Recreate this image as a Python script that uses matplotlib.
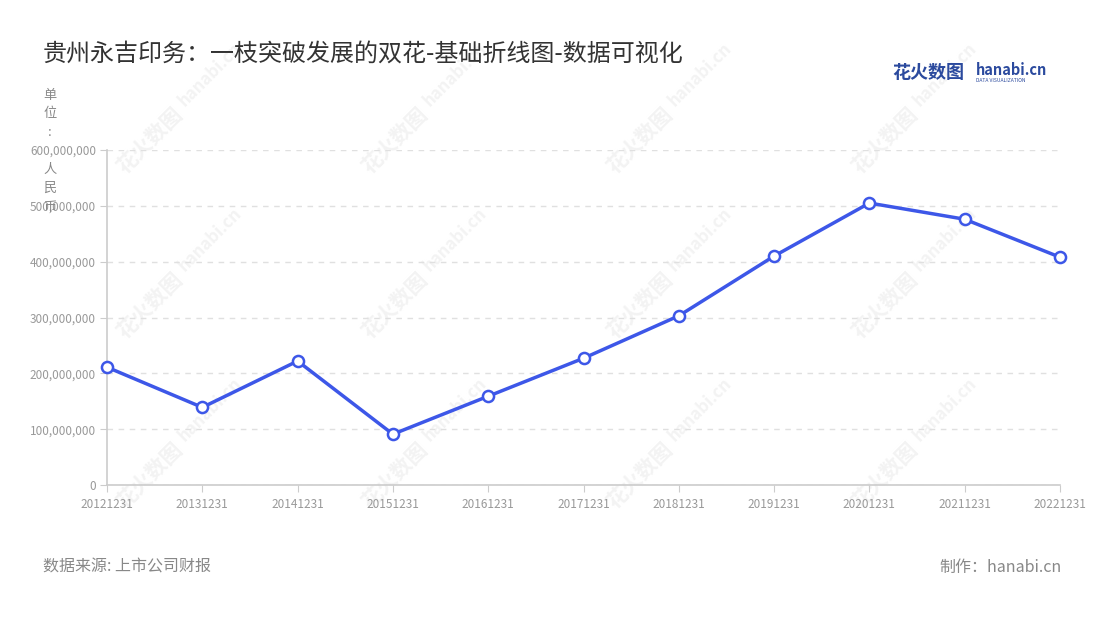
import matplotlib
matplotlib.use("Agg")
import matplotlib.pyplot as plt
from matplotlib.ticker import FuncFormatter

plt.rcParams['font.family'] = ['Noto Sans CJK SC', 'DejaVu Sans']

dates = ["20121231", "20131231", "20141231", "20151231", "20161231", "20171231",
         "20181231", "20191231", "20201231", "20211231", "20221231"]
values = [211e6, 139e6, 222e6, 91e6, 159e6, 227e6, 303e6, 410e6, 505e6, 476e6, 408e6]
yticks = [0, 100e6, 200e6, 300e6, 400e6, 500e6, 600e6]

title = "贵州永吉印务：一枝突破发展的双花-基础折线图-数据可视化"
source = "数据来源: 上市公司财报"
maker = "制作：hanabi.cn"
line_color = "#3d57e8"

fig = plt.figure(figsize=(11, 6.2), dpi=100)
W, H = 1100, 620
ax = fig.add_axes([107 / W, 1 - 485 / H, (1060 - 107) / W, (485 - 150) / H])
ax.set_zorder(2)

x = list(range(len(dates)))

# watermarks
for cx in [150, 395, 640, 885]:
    for cy in [140, 305, 475]:
        fig.text(cx / W, 1 - cy / H, "花火数图", rotation=45, fontsize=15,
                 color="#f3f3f3", ha="center", va="center", fontweight="bold", zorder=-5)
        fig.text((cx + 60) / W, 1 - (cy - 65) / H, "hanabi.cn", rotation=45, fontsize=12,
                 color="#f3f3f3", ha="center", va="center", fontweight="bold", zorder=-5)

ax.plot(x, values, color=line_color, linewidth=2.5, marker="o", markersize=8,
        markerfacecolor="white", markeredgecolor=line_color, markeredgewidth=1.8,
        clip_on=False, zorder=5)

ax.set_xlim(0, len(dates) - 1)
ax.set_ylim(0, 600e6)
ax.set_yticks(yticks)
ax.yaxis.set_major_formatter(FuncFormatter(lambda v, p: f"{int(v):,}"))
ax.set_xticks(x)
ax.set_xticklabels(dates)

ax.set_facecolor("none")
for s in ["top", "right"]:
    ax.spines[s].set_visible(False)
for s in ["left", "bottom"]:
    ax.spines[s].set_color("#cccccc")
    ax.spines[s].set_linewidth(1.2)

ax.tick_params(axis="both", colors="#cccccc", labelcolor="#999999", labelsize=8.5, length=5)
ax.tick_params(axis="x", pad=4)
ax.tick_params(axis="y", pad=3)
ax.grid(axis="y", color="#e0e0e0", linestyle=(0, (4, 4)), linewidth=1)
ax.set_axisbelow(True)

# title
fig.text(43 / W, 1 - 55 / H, title, fontsize=17.3, color="#333333", ha="left", va="center")

# logo
fig.text(892 / W, 1 - 73 / H, "花火数图", fontsize=13, color="#2b4a9e", fontweight="bold",
         ha="left", va="center")
fig.text(976 / W, 1 - 70 / H, "hanabi.cn", fontsize=10.5, color="#2b4a9e", fontweight="bold",
         ha="left", va="center")
fig.text(976 / W, 1 - 81 / H, "DATA VISUALIZATION", fontsize=3.6, color="#2b4a9e",
         ha="left", va="center")

# unit label
unit_chars = ["单", "位", ":", "", "人", "民", "币"]
for i, ch in enumerate(unit_chars):
    fig.text(50 / W, 1 - (95 + i * 18.7) / H, ch, fontsize=9.5, color="#888888",
             ha="center", va="center")

# footer
fig.text(43 / W, 1 - 567 / H, source, fontsize=11.5, color="#888888", ha="left", va="center")
fig.text(1062 / W, 1 - 567 / H, maker, fontsize=11.5, color="#888888", ha="right", va="center")

fig.savefig("out.png", dpi=100, facecolor="white")
